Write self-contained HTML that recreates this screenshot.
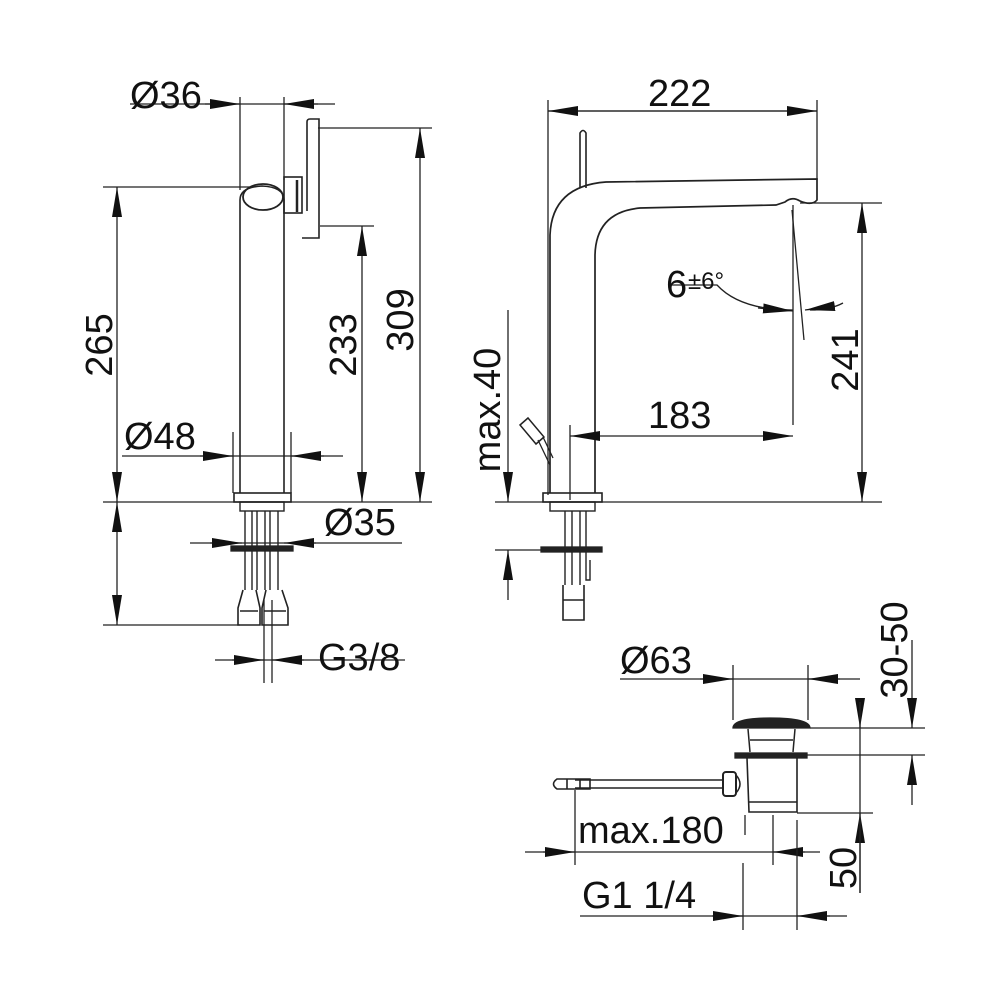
<!DOCTYPE html>
<html><head><meta charset="utf-8"><style>
html,body{margin:0;padding:0;background:#fff}
svg{display:block}
text{font-family:"Liberation Sans",Arial,sans-serif;font-size:38px;fill:#111}
</style></head><body>
<svg width="1000" height="1000" viewBox="0 0 1000 1000" xmlns="http://www.w3.org/2000/svg">
<defs>
<marker id="a" viewBox="0 0 30 10" refX="30" refY="5" markerWidth="30" markerHeight="10" markerUnits="userSpaceOnUse" orient="auto"><path d="M0,0 L30,5 L0,10z" fill="#111"/></marker>
</defs>
<g stroke="#222" stroke-width="1.3" fill="none">
<line x1="130" y1="104" x2="335" y2="104"/>
<line x1="205" y1="104" x2="240" y2="104" marker-end="url(#a)"/>
<line x1="318" y1="104" x2="284" y2="104" marker-end="url(#a)"/>
<line x1="240" y1="97" x2="240" y2="190"/>
<line x1="284" y1="97" x2="284" y2="180"/>
<line x1="318" y1="128" x2="432" y2="128"/>
<line x1="420" y1="315" x2="420" y2="128" marker-end="url(#a)"/>
<line x1="420" y1="315" x2="420" y2="502" marker-end="url(#a)"/>
<line x1="320" y1="226" x2="374" y2="226"/>
<line x1="362" y1="360" x2="362" y2="226" marker-end="url(#a)"/>
<line x1="362" y1="360" x2="362" y2="502" marker-end="url(#a)"/>
<line x1="103" y1="187" x2="250" y2="187"/>
<line x1="117" y1="340" x2="117" y2="187" marker-end="url(#a)"/>
<line x1="117" y1="340" x2="117" y2="502" marker-end="url(#a)"/>
<line x1="117" y1="560" x2="117" y2="502" marker-end="url(#a)"/>
<line x1="117" y1="560" x2="117" y2="625" marker-end="url(#a)"/>
<line x1="103" y1="625" x2="240" y2="625"/>
<line x1="103" y1="502" x2="432" y2="502"/>
<line x1="122" y1="456" x2="343" y2="456"/>
<line x1="200" y1="456" x2="233" y2="456" marker-end="url(#a)"/>
<line x1="324" y1="456" x2="291" y2="456" marker-end="url(#a)"/>
<line x1="233" y1="432" x2="233" y2="493"/>
<line x1="291" y1="432" x2="291" y2="493"/>
<path d="M240,493 L240,200 Q240,187 262,186 Q284,187 284,200 L284,493" stroke-width="1.6"/>
<ellipse cx="263" cy="197" rx="20" ry="13" stroke-width="1.8"/>
<rect x="284" y="177" width="18" height="36" stroke-width="1.6"/>
<line x1="297" y1="180" x2="297" y2="212" stroke-width="2.5"/>
<path d="M307,211 L307,122 Q307,119 310,119 L319,119 L319,238 L302,238" stroke-width="1.6"/>
<rect x="234" y="493" width="57" height="9" stroke-width="1.6"/>
<rect x="240" y="502" width="44" height="9" stroke-width="1.4"/>
<path d="M245,511 V590 M252,511 V590 M257,511 V590 M265,511 V590 M270,511 V590 M278,511 V590" stroke-width="1.4"/>
<rect x="231" y="546" width="62" height="5" fill="#222"/>
<path d="M243,590 L238,608 L238,625 L260,625 L260,608 L256,590 M266,590 L262,608 L262,625 L288,625 L288,608 L282,590" stroke-width="1.6"/>
<path d="M240,611 H258 M264,611 H286" stroke-width="1.4"/>
<line x1="190" y1="543" x2="402" y2="543"/>
<line x1="210" y1="543" x2="242" y2="543" marker-end="url(#a)"/>
<line x1="316" y1="543" x2="284" y2="543" marker-end="url(#a)"/>
<line x1="215" y1="660" x2="405" y2="660"/>
<line x1="232" y1="660" x2="264" y2="660" marker-end="url(#a)"/>
<line x1="304" y1="660" x2="272" y2="660" marker-end="url(#a)"/>
<line x1="264" y1="600" x2="264" y2="683"/>
<line x1="272" y1="600" x2="272" y2="683"/>

<line x1="548" y1="111" x2="817" y2="111"/>
<line x1="680" y1="111" x2="548" y2="111" marker-end="url(#a)"/>
<line x1="680" y1="111" x2="817" y2="111" marker-end="url(#a)"/>
<line x1="548" y1="100" x2="548" y2="495"/>
<line x1="817" y1="100" x2="817" y2="180"/>
<path d="M580,188 V133 Q583,128 586,133 V188" stroke-width="1.6"/>
<path d="M550,493 L550,235 Q552,186 606,182 L817,179 L817,200 Q812,206 800,201 Q792,196 785,202 L776,205 L640,208 Q596,212 595,255 L595,493" stroke-width="1.7"/>
<rect x="543" y="493" width="59" height="9" stroke-width="1.6"/>
<rect x="550" y="502" width="45" height="9" stroke-width="1.4"/>
<path d="M565,511 V585 M572,511 V585 M580,511 V585 M586,511 V580 L590,580 V560" stroke-width="1.4"/>
<rect x="541" y="547" width="61" height="5" fill="#222"/>
<path d="M563,585 L563,620 L584,620 L584,585 M563,600 H584" stroke-width="1.6"/>
<path d="M528,418 L544,437 L536,444 L520,425 Z" stroke-width="1.5"/>
<path d="M538,440 L550,465 M543,437 L553,458" stroke-width="1.3"/>
<line x1="495" y1="550" x2="600" y2="550"/>
<line x1="508" y1="310" x2="508" y2="502" marker-end="url(#a)"/>
<line x1="508" y1="600" x2="508" y2="550" marker-end="url(#a)"/>
<line x1="495" y1="502" x2="882" y2="502"/>
<line x1="570" y1="425" x2="570" y2="500"/>
<line x1="793" y1="205" x2="793" y2="425"/>
<line x1="680" y1="436" x2="570" y2="436" marker-end="url(#a)"/>
<line x1="680" y1="436" x2="793" y2="436" marker-end="url(#a)"/>
<line x1="792" y1="210" x2="804" y2="340"/>
<path d="M668,285 L717,285 Q740,310 793,310" />
<line x1="758" y1="308" x2="793" y2="311" marker-end="url(#a)"/>
<path d="M843,303 Q830,310 810,310"/>
<line x1="835" y1="306" x2="805" y2="310" marker-end="url(#a)"/>
<line x1="800" y1="203" x2="882" y2="203"/>
<line x1="862" y1="350" x2="862" y2="203" marker-end="url(#a)"/>
<line x1="862" y1="350" x2="862" y2="502" marker-end="url(#a)"/>

<line x1="620" y1="679" x2="860" y2="679"/>
<line x1="700" y1="679" x2="733" y2="679" marker-end="url(#a)"/>
<line x1="840" y1="679" x2="808" y2="679" marker-end="url(#a)"/>
<line x1="733" y1="665" x2="733" y2="720"/>
<line x1="808" y1="665" x2="808" y2="720"/>
<path d="M733,728 Q733,718 770,718 Q810,718 810,728 Z" fill="#222"/>
<path d="M748,729 L750,752 M795,729 L793,752 M750,740 H793" stroke-width="1.5"/>
<rect x="735" y="753" width="72" height="5" fill="#222"/>
<path d="M747,758 L749,812 L797,812 L797,758 M749,802 H797" stroke-width="1.6"/>
<rect x="723" y="772" width="13" height="24" rx="3" stroke-width="2"/>
<path d="M736,775 Q744,784 736,793" stroke-width="1.5"/>
<path d="M575,780 L723,780 M575,788 L723,788" stroke-width="1.5"/>
<path d="M557,779 L590,779 L590,789 L557,789 Q550,784 557,779 Z M567,779 V789 M580,779 V789" stroke-width="1.6"/>
<line x1="525" y1="852" x2="820" y2="852"/>
<line x1="543" y1="852" x2="575" y2="852" marker-end="url(#a)"/>
<line x1="805" y1="852" x2="773" y2="852" marker-end="url(#a)"/>
<line x1="575" y1="790" x2="575" y2="865"/>
<line x1="773" y1="815" x2="773" y2="865"/>
<line x1="745" y1="815" x2="745" y2="835"/>
<line x1="580" y1="916" x2="847" y2="916"/>
<line x1="712" y1="916" x2="743" y2="916" marker-end="url(#a)"/>
<line x1="830" y1="916" x2="797" y2="916" marker-end="url(#a)"/>
<line x1="743" y1="863" x2="743" y2="930"/>
<line x1="797" y1="820" x2="797" y2="930"/>
<line x1="810" y1="728" x2="925" y2="728"/>
<line x1="797" y1="813" x2="873" y2="813"/>
<line x1="860" y1="702" x2="860" y2="728" marker-end="url(#a)"/>
<line x1="860" y1="893" x2="860" y2="813" marker-end="url(#a)"/>
<line x1="860" y1="702" x2="860" y2="893"/>
<line x1="807" y1="755" x2="925" y2="755"/>
<line x1="912" y1="640" x2="912" y2="728" marker-end="url(#a)"/>
<line x1="912" y1="805" x2="912" y2="755" marker-end="url(#a)"/>
</g>
<text x="130" y="108">Ø36</text>
<text x="124" y="449">Ø48</text>
<text x="324" y="535">Ø35</text>
<text x="318" y="670">G3/8</text>
<text transform="translate(112,345) rotate(-90)" text-anchor="middle">265</text>
<text transform="translate(356,345) rotate(-90)" text-anchor="middle">233</text>
<text transform="translate(413,320) rotate(-90)" text-anchor="middle">309</text>
<text x="648" y="106">222</text>
<text x="648" y="428">183</text>
<text x="666" y="297">6</text><text x="688" y="289" style="font-size:24px">±6°</text>
<text transform="translate(858,360) rotate(-90)" text-anchor="middle">241</text>
<text transform="translate(500,410) rotate(-90)" text-anchor="middle">max.40</text>
<text x="620" y="673">Ø63</text>
<text x="578" y="843">max.180</text>
<text x="582" y="908">G1 1/4</text>
<text transform="translate(856,868) rotate(-90)" text-anchor="middle">50</text>
<text transform="translate(907,650) rotate(-90)" text-anchor="middle">30-50</text>
</svg>
</body></html>
